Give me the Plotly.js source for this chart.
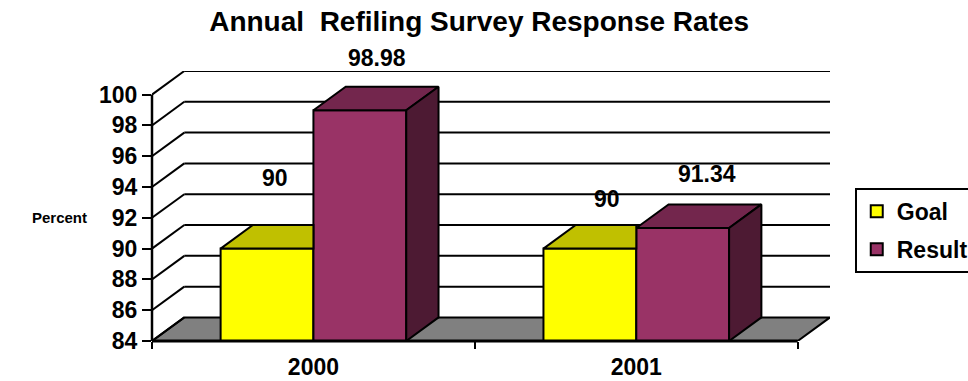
<!DOCTYPE html>
<html>
<head>
<meta charset="utf-8">
<script src="https://cdn.plot.ly/plotly-3.0.1.min.js"></script>
<style>
  html, body { margin: 0; padding: 0; background: #ffffff; }
  #chart { width: 968px; height: 381px; }
</style>
</head>
<body>
<div id="chart"></div>
<script>
// Annual refiling survey: goal vs. achieved response rate (percent)
const years = ['2000', '2001'];
const goal = [90, 90];
const result = [98.98, 91.34];
const seriesNames = ['Goal', 'Result'];
const yTicks = [84, 86, 88, 90, 92, 94, 96, 98, 100];

// Pseudo-3D box geometry, in axis units
const Y_MIN = 84;
const Y_TOP = 100;
const DEPTH_X = 0.1;     // depth offset along the category axis
const DEPTH_Y = 1.53;    // depth offset along the value axis
const BAR_W = 0.2875;    // width of one bar
const OFFSETS = [-BAR_W, 0];
const X_LEFT = -0.5;
const X_RIGHT = years.length - 0.5;

// Value-label nudges in pixels, per series and year
const labelShiftX = { Goal: [-8, 1], Result: [1, 8] };
const labelShiftY = { Goal: [47, 26], Result: [29, 30] };

const FONT = 'Liberation Sans, Arial, Helvetica, sans-serif';
const palette = {
  Goal:   { front: '#FFFF00', top: '#C0C000', side: '#808000' },
  Result: { front: '#993366', top: '#73264D', side: '#4D1A33' }
};
const seriesValues = { Goal: goal, Result: result };
const xs = years.map((_, i) => i);

function face(xArr, yArr, color) {
  return {
    type: 'scatter', mode: 'lines', fill: 'toself',
    x: xArr.concat(xArr[0]), y: yArr.concat(yArr[0]),
    fillcolor: color, line: { color: '#000000', width: 2 },
    showlegend: false, hoverinfo: 'skip'
  };
}

const traces = [];

// Front faces of the bars
seriesNames.forEach((name, s) => {
  traces.push({
    type: 'bar', name: name, x: xs, y: seriesValues[name],
    offset: OFFSETS[s], width: BAR_W,
    marker: { color: palette[name].front, line: { color: '#000000', width: 2 } },
    legendgroup: name, customdata: years,
    hovertemplate: name + ' %{customdata}: %{y}<extra></extra>'
  });
});

// Top and side faces, drawn left to right so nearer faces cover farther ones
xs.forEach((xi, i) => {
  seriesNames.forEach((name, s) => {
    const v = seriesValues[name][i];
    const x0 = xi + OFFSETS[s];
    const x1 = x0 + BAR_W;
    const next = seriesNames[s + 1];
    const hidden = next && seriesValues[next][i] >= v;
    if (hidden) {
      // right part of the top face sits behind the taller neighbour
      traces.push(face([x0, x1, x1, x0 + DEPTH_X],
                       [v, v, v + DEPTH_Y, v + DEPTH_Y], palette[name].top));
    } else {
      traces.push(face([x0, x1, x1 + DEPTH_X, x0 + DEPTH_X],
                       [v, v, v + DEPTH_Y, v + DEPTH_Y], palette[name].top));
      traces.push(face([x1, x1 + DEPTH_X, x1 + DEPTH_X, x1],
                       [Y_MIN, Y_MIN + DEPTH_Y, v + DEPTH_Y, v], palette[name].side));
    }
  });
});

// Walls, floor and front axis lines
const shapes = [];
shapes.push({
  type: 'path', layer: 'below', xref: 'x', yref: 'y',
  path: `M${X_LEFT},${Y_MIN} L${X_RIGHT},${Y_MIN} L${X_RIGHT + DEPTH_X},${Y_MIN + DEPTH_Y} L${X_LEFT + DEPTH_X},${Y_MIN + DEPTH_Y} Z`,
  fillcolor: '#808080', line: { color: '#000000', width: 2 }
});
yTicks.forEach(v => {
  shapes.push({
    type: 'line', layer: 'below', xref: 'x', yref: 'y',
    x0: X_LEFT, y0: v, x1: X_LEFT + DEPTH_X, y1: v + DEPTH_Y,
    line: { color: '#000000', width: 2 }
  });
  if (v > Y_MIN) {
    shapes.push({
      type: 'line', layer: 'below', xref: 'x', yref: 'y',
      x0: X_LEFT + DEPTH_X, y0: v + DEPTH_Y, x1: X_RIGHT + DEPTH_X, y1: v + DEPTH_Y,
      line: { color: '#000000', width: 2 }
    });
  }
});
shapes.push({
  type: 'line', layer: 'above', xref: 'paper', yref: 'y',
  x0: 0, y0: Y_MIN, x1: 0, y1: Y_TOP,
  line: { color: '#000000', width: 2.5 }
});
shapes.push({
  type: 'line', layer: 'above', xref: 'x', yref: 'paper',
  x0: X_LEFT, y0: 0, x1: X_RIGHT, y1: 0,
  line: { color: '#000000', width: 3 }
});

// Value labels above each bar
const annotations = [];
seriesNames.forEach((name, s) => {
  seriesValues[name].forEach((v, i) => {
    annotations.push({
      xref: 'x', yref: 'y',
      x: xs[i] + OFFSETS[s] + BAR_W / 2 + DEPTH_X / 2,
      y: v + DEPTH_Y,
      text: String(v), showarrow: false,
      xanchor: 'center', yanchor: 'middle',
      xshift: labelShiftX[name][i], yshift: labelShiftY[name][i],
      font: { family: FONT, size: 23, color: '#000000', weight: 'bold' }
    });
  });
});
annotations.push({
  xref: 'paper', yref: 'paper', x: -0.136, y: 0.458,
  text: 'Percent', showarrow: false, xanchor: 'center', yanchor: 'middle',
  font: { family: FONT, size: 15, color: '#000000', weight: 'bold' }
});

const layout = {
  width: 968, height: 381,
  paper_bgcolor: '#ffffff', plot_bgcolor: 'rgba(0,0,0,0)',
  margin: { l: 152, r: 138, t: 71, b: 40, autoexpand: false },
  font: { family: FONT, color: '#000000' },
  title: {
    text: 'Annual\u00A0 Refiling Survey Response Rates',
    x: 0.495, xanchor: 'center', y: 0.945, yanchor: 'middle',
    font: { family: FONT, size: 28, color: '#000000', weight: 'bold' }
  },
  xaxis: {
    type: 'linear', range: [X_LEFT, X_RIGHT + DEPTH_X],
    tickmode: 'array', tickvals: xs, ticktext: years,
    ticks: 'outside', ticklen: 5, tickcolor: 'rgba(0,0,0,0)',
    tickfont: { family: FONT, size: 23, color: '#000000', weight: 'bold' },
    minor: { tickmode: 'array', tickvals: [-0.5, 0.5, 1.5], ticks: 'outside',
             ticklen: 7, tickwidth: 2, tickcolor: '#000000', showgrid: false },
    showgrid: false, zeroline: false, showline: false, fixedrange: true
  },
  yaxis: {
    range: [Y_MIN, Y_TOP + DEPTH_Y],
    tickmode: 'array', tickvals: yTicks,
    ticks: 'outside', ticklen: 9, tickwidth: 2, tickcolor: '#000000',
    tickfont: { family: FONT, size: 23, color: '#000000', weight: 'bold' },
    showgrid: false, zeroline: false, showline: false, fixedrange: true
  },
  barmode: 'overlay',
  showlegend: true,
  legend: {
    x: 1.0365, xanchor: 'left', y: 0.567, yanchor: 'top',
    bordercolor: '#000000', borderwidth: 2, bgcolor: '#ffffff',
    traceorder: 'grouped', tracegroupgap: 5,
    font: { family: FONT, size: 23, color: '#000000', weight: 'bold' }
  },
  shapes: shapes,
  annotations: annotations,
  hovermode: 'closest'
};

Plotly.newPlot('chart', traces, layout, { displayModeBar: false, responsive: false });
</script>
</body>
</html>
